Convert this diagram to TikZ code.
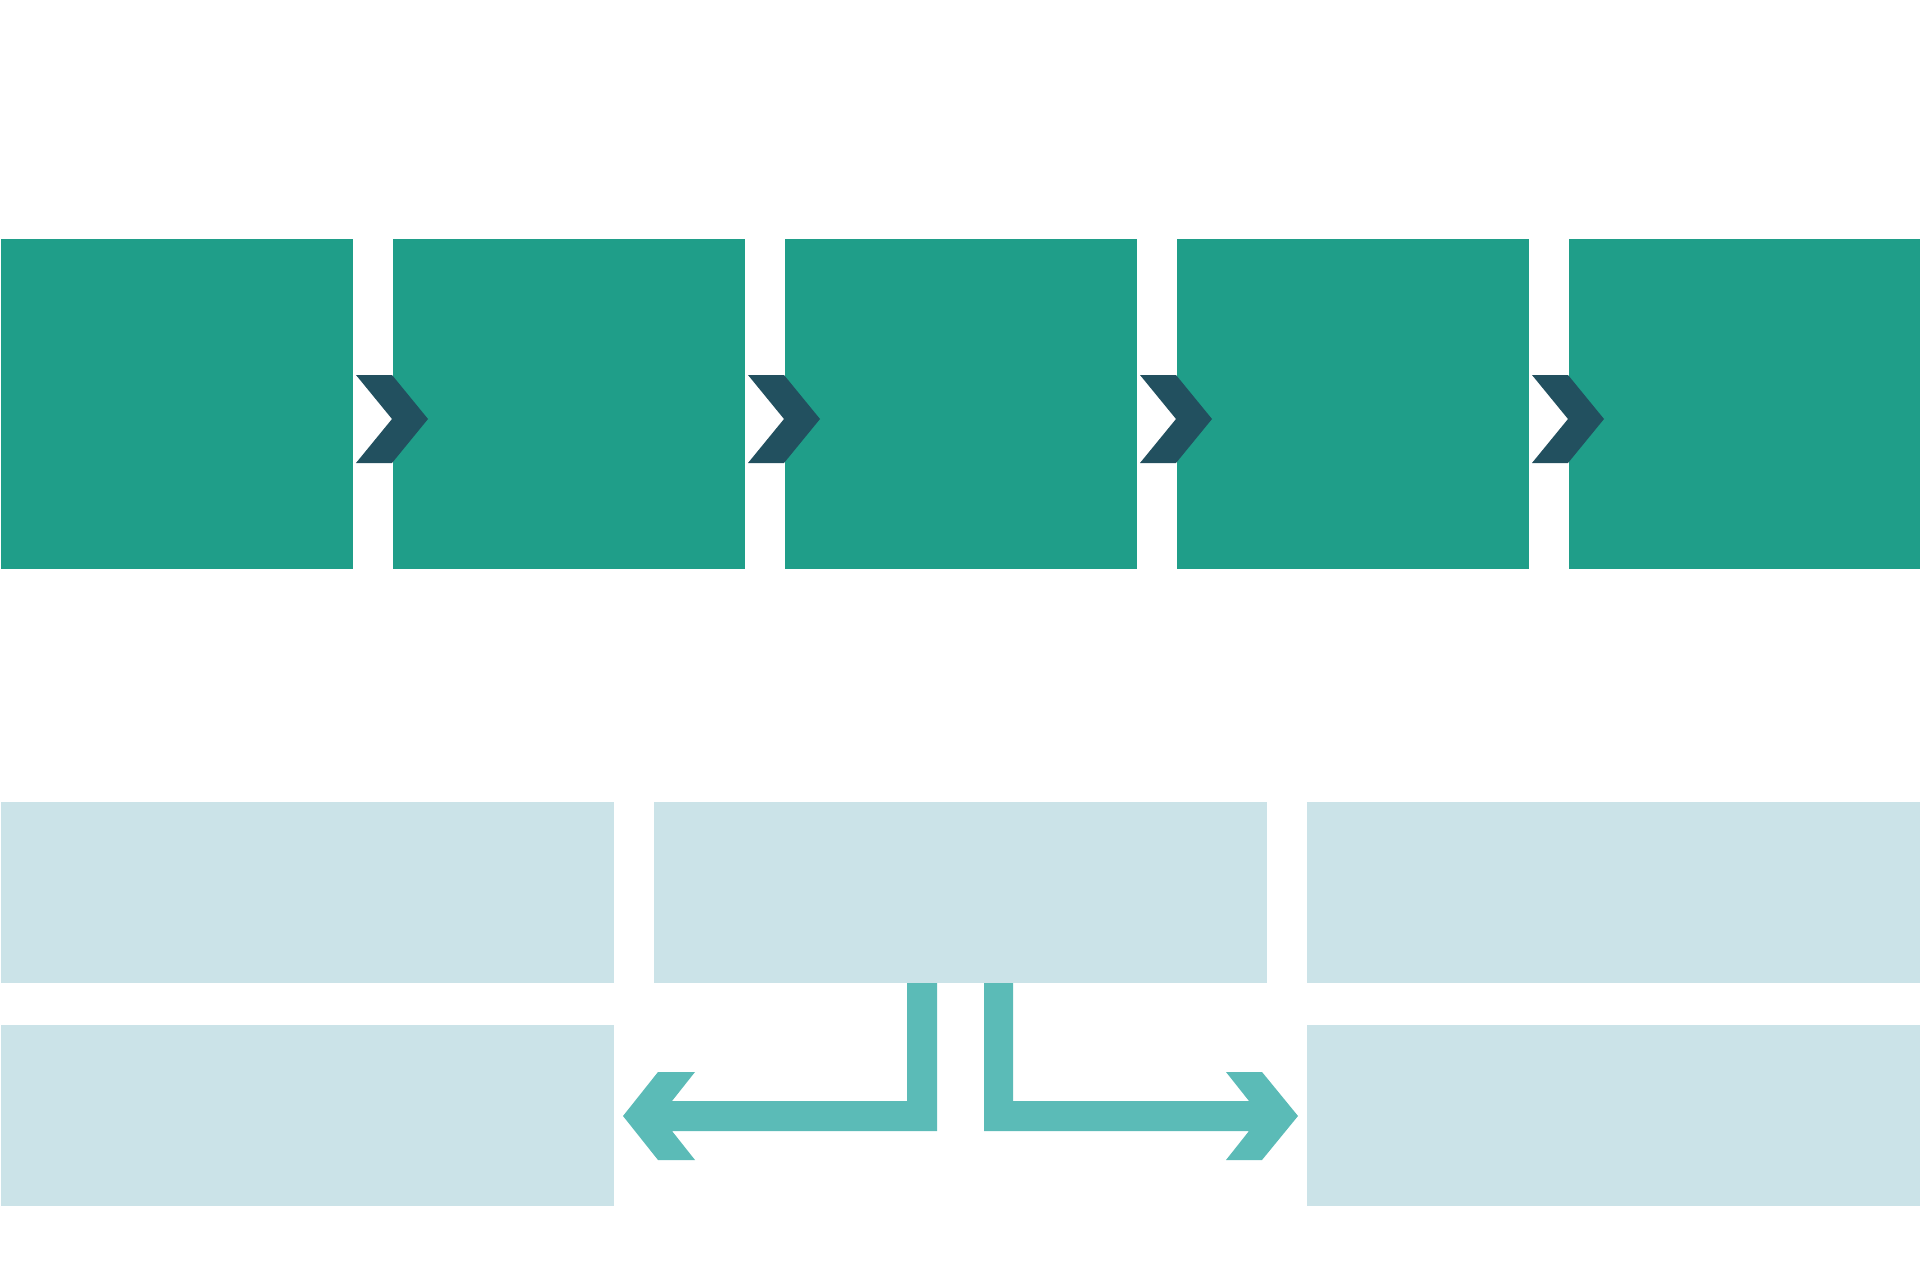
\documentclass[tikz,border=0pt]{standalone}
\definecolor{topgreen}{HTML}{1F9E89}
\definecolor{chev}{HTML}{22505F}
\definecolor{lightbox}{HTML}{CBE3E8}
\definecolor{arrowteal}{HTML}{5BBBB7}
\begin{document}
\begin{tikzpicture}[x=1pt,y=-1pt,
  topbox/.style={fill=topgreen,draw=none,inner sep=0,outer sep=0,minimum width=352pt,minimum height=330pt,anchor=north west},
  lowbox/.style={fill=lightbox,draw=none,inner sep=0,outer sep=0,minimum width=613pt,minimum height=181pt,anchor=north west},
  chevron/.style={fill=chev,draw=none},
  tealarrow/.style={fill=arrowteal,draw=none}]
\useasboundingbox (0,0) rectangle (1920,1273);
% top row
\foreach \i in {0,...,4}{
  \node[topbox] (t\i) at ({1+392*\i},239) {};
}
% chevrons
\foreach \i in {0,...,3}{
  \fill[chevron] ({356+392*\i},375) -- ({392+392*\i},375) -- ({428+392*\i},419) -- ({392+392*\i},463) -- ({356+392*\i},463) -- ({392+392*\i},419) -- cycle;
}
% bottom boxes
\node[lowbox] (b1) at (1,802) {};
\node[lowbox] (b2) at (654,802) {};
\node[lowbox] (b3) at (1307,802) {};
\node[lowbox] (b4) at (1,1025) {};
\node[lowbox] (b5) at (1307,1025) {};
% left arrow
\fill[tealarrow] (907,983) -- (937,983) -- (937,1131) -- (672,1131) -- (695,1160) -- (658,1160) -- (623,1116) -- (658,1072) -- (695,1072) -- (672,1101) -- (907,1101) -- cycle;
% right arrow
\fill[tealarrow] (984,983) -- (1013,983) -- (1013,1101) -- (1249,1101) -- (1226,1072) -- (1262,1072) -- (1298,1116) -- (1262,1160) -- (1226,1160) -- (1249,1131) -- (984,1131) -- cycle;
\end{tikzpicture}
\end{document}
